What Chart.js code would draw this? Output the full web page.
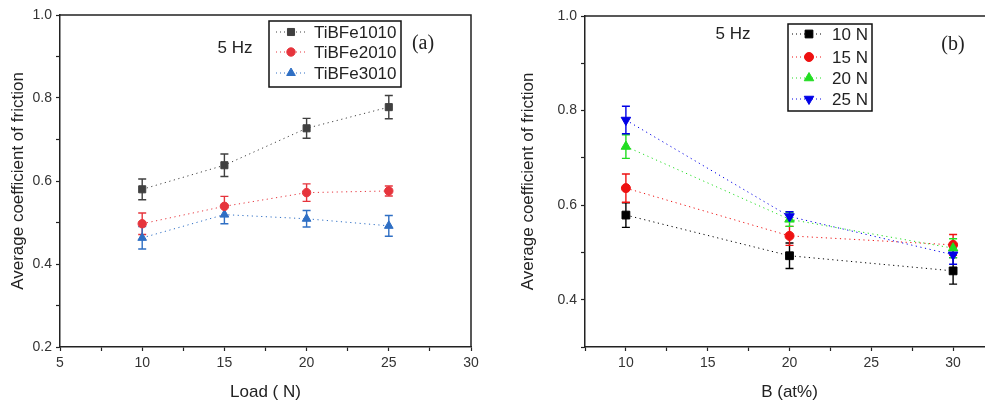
<!DOCTYPE html>
<html>
<head>
<meta charset="utf-8">
<script src="https://cdn.jsdelivr.net/npm/chart.js@4.4.1/dist/chart.umd.min.js"></script>
<style>
	html, body { margin: 0; padding: 0; background: #fff; width: 985px; height: 403px; overflow: hidden; position: relative; }
	#wrap-a { position: absolute; left: 0; top: 0; width: 490px; height: 403px; }
	#wrap-b { position: absolute; left: 490px; top: 0; width: 515px; height: 403px; }
</style>
</head>
<body>
<div id="wrap-a"><canvas id="chart-a" width="490" height="403"></canvas></div>
<div id="wrap-b"><canvas id="chart-b" width="515" height="403"></canvas></div>
<script>
// panel (a): friction vs load
const loads = [10, 15, 20, 25];
const alloyNames = ["TiBFe1010", "TiBFe2010", "TiBFe3010"];
const cofTiBFe1010 = [0.580, 0.638, 0.727, 0.778];
const errTiBFe1010 = [0.025, 0.027, 0.024, 0.028];
const cofTiBFe2010 = [0.497, 0.539, 0.572, 0.576];
const errTiBFe2010 = [0.026, 0.024, 0.021, 0.012];
const cofTiBFe3010 = [0.463, 0.519, 0.509, 0.492];
const errTiBFe3010 = [0.027, 0.022, 0.020, 0.025];

// panel (b): friction vs boron content
const boron = [10, 20, 30];
const loadNames = ["10 N", "15 N", "20 N", "25 N"];
const cof10N = [0.579, 0.493, 0.461];
const err10N = [0.026, 0.027, 0.028];
const cof15N = [0.636, 0.535, 0.516];
const err15N = [0.030, 0.020, 0.022];
const cof20N = [0.724, 0.570, 0.509];
const err20N = [0.025, 0.015, 0.020];
const cof25N = [0.780, 0.576, 0.495];
const err25N = [0.029, 0.010, 0.020];

const FONT = "'Liberation Sans', Arial, sans-serif";
const AXIS = "#222";

const toPoints = (xs, ys) => xs.map((x, i) => ({ x: x, y: ys[i] }));

// draws vertical error bars under the markers
const errorBars = {
	id: "errorBars",
	beforeDatasetsDraw(chart) {
		const ctx = chart.ctx;
		const yScale = chart.scales.y;
		chart.data.datasets.forEach((ds, i) => {
			const meta = chart.getDatasetMeta(i);
			ctx.save();
			ctx.strokeStyle = ds.pointBackgroundColor;
			ctx.lineWidth = 1.4;
			meta.data.forEach((pt, j) => {
				const v = ds.data[j].y;
				const e = ds.errors[j];
				const top = yScale.getPixelForValue(v + e);
				const bot = yScale.getPixelForValue(v - e);
				ctx.beginPath();
				ctx.moveTo(pt.x, top); ctx.lineTo(pt.x, bot);
				ctx.moveTo(pt.x - 4, top); ctx.lineTo(pt.x + 4, top);
				ctx.moveTo(pt.x - 4, bot); ctx.lineTo(pt.x + 4, bot);
				ctx.stroke();
			});
			ctx.restore();
		});
	}
};

// frame, boxed legend and text labels
const framePlugin = {
	id: "frame",
	afterDraw(chart, args, opts) {
		const ctx = chart.ctx;
		const a = chart.chartArea;
		ctx.save();
		ctx.strokeStyle = AXIS;
		ctx.lineWidth = 1.5;
		ctx.beginPath();
		ctx.moveTo(a.left, a.top); ctx.lineTo(a.right, a.top); ctx.lineTo(a.right, a.bottom);
		ctx.stroke();

		const lg = opts.legend;
		ctx.strokeStyle = "#111";
		ctx.lineWidth = 1.5;
		ctx.strokeRect(lg.box[0], lg.box[1], lg.box[2] - lg.box[0], lg.box[3] - lg.box[1]);
		chart.data.datasets.forEach((ds, i) => {
			const y = lg.rows[i];
			ctx.strokeStyle = ds.borderColor;
			ctx.lineWidth = 1;
			ctx.setLineDash([1, 3]);
			ctx.beginPath();
			ctx.moveTo(lg.line[0], y); ctx.lineTo(lg.line[1], y);
			ctx.stroke();
			ctx.setLineDash([]);
			ctx.fillStyle = ds.pointBackgroundColor;
			ctx.strokeStyle = ds.pointBackgroundColor;
			Chart.helpers.drawPoint(ctx, {
				pointStyle: ds.pointStyle,
				radius: ds.pointRadius,
				rotation: ds.pointRotation || 0,
				borderWidth: 1
			}, lg.markX, y);
			ctx.fillStyle = "#222";
			ctx.font = "17px " + FONT;
			ctx.textAlign = "left";
			ctx.textBaseline = "middle";
			ctx.fillText(ds.label, lg.textX, y + 1);
		});

		opts.labels.forEach((l) => {
			ctx.fillStyle = "#222";
			ctx.font = l.font;
			ctx.textAlign = "center";
			ctx.textBaseline = "middle";
			ctx.fillText(l.text, l.x, l.y);
		});
		ctx.restore();
	}
};

function makeDataset(label, xs, ys, errs, color, style, radius, rotation) {
	return {
		label: label,
		data: toPoints(xs, ys),
		errors: errs,
		borderColor: color,
		borderWidth: 1,
		borderDash: [1.2, 3.5],
		pointStyle: style,
		pointRadius: radius,
		pointRotation: rotation || 0,
		pointBackgroundColor: color,
		pointBorderColor: color,
		pointBorderWidth: 1,
		fill: false,
		tension: 0
	};
}

function buildScales(opts) {
	return {
		x: {
			type: "linear",
			min: opts.xMin,
			max: opts.xMax,
			ticks: {
				stepSize: 2.5,
				autoSkip: false,
				maxRotation: 0,
				padding: 4,
				color: "#333",
				font: { family: FONT, size: 14 },
				callback: (v) => (v % 5 === 0 ? String(v) : "")
			},
			grid: { drawOnChartArea: false, tickLength: 4, tickColor: AXIS, tickWidth: 1.2 },
			border: { color: AXIS, width: 1.5 },
			title: { display: true, text: opts.xTitle, color: "#222", font: { family: FONT, size: 17 }, padding: { top: 4, bottom: 0 } },
			afterFit: (s) => { s.height = 56; }
		},
		y: {
			min: opts.yMin,
			max: 1.0,
			ticks: {
				stepSize: 0.1,
				autoSkip: false,
				padding: 4,
				color: "#333",
				font: { family: FONT, size: 14 },
				callback: (v) => {
					const k = Math.round(v * 10);
					return k % 2 === 0 ? (k / 10).toFixed(1) : "";
				}
			},
			grid: { drawOnChartArea: false, tickLength: 4, tickColor: AXIS, tickWidth: 1.2 },
			border: { color: AXIS, width: 1.5 },
			title: { display: true, text: "Average coefficient of friction", color: "#222", font: { family: FONT, size: 17 }, padding: { top: 4, bottom: 0 } },
			afterFit: (s) => { s.width = opts.yWidth; }
		}
	};
}

const alloyColors = ["#404040", "#e6343c", "#2f6fc4"];
const alloyCof = [cofTiBFe1010, cofTiBFe2010, cofTiBFe3010];
const alloyErr = [errTiBFe1010, errTiBFe2010, errTiBFe3010];
const alloyStyles = [["rect", 5], ["circle", 4.2], ["triangle", 5]];

new Chart(document.getElementById("chart-a"), {
	type: "line",
	data: {
		datasets: alloyNames.map((name, i) =>
			makeDataset(name, loads, alloyCof[i], alloyErr[i], alloyColors[i], alloyStyles[i][0], alloyStyles[i][1]))
	},
	options: {
		responsive: false,
		animation: false,
		layout: { padding: { left: 4, top: 15, right: 19, bottom: 0 } },
		plugins: {
			legend: { display: false },
			tooltip: { enabled: false },
			frame: {
				legend: { box: [269, 21, 401, 87], rows: [32, 52, 73], line: [276, 305], markX: 291, textX: 314 },
				labels: [
					{ text: "5 Hz", x: 235, y: 48, font: "17px " + FONT },
					{ text: "(a)", x: 423, y: 44, font: "20px 'Liberation Serif', 'Times New Roman', serif" }
				]
			}
		},
		scales: buildScales({ xMin: 5, xMax: 30, yMin: 0.2, xTitle: "Load ( N)", yWidth: 56 })
	},
	plugins: [errorBars, framePlugin]
});

const loadColors = ["#000000", "#ee1111", "#22dd22", "#0000e6"];
const loadCof = [cof10N, cof15N, cof20N, cof25N];
const loadErr = [err10N, err15N, err20N, err25N];
const loadStyles = [["rect", 5.5, 0], ["circle", 4.5, 0], ["triangle", 5.5, 0], ["triangle", 5.5, 180]];

new Chart(document.getElementById("chart-b"), {
	type: "line",
	data: {
		datasets: loadNames.map((name, i) => {
			const ds = makeDataset(name, boron, loadCof[i], loadErr[i], loadColors[i], loadStyles[i][0], loadStyles[i][1], loadStyles[i][2]);
			ds.order = 3 - i;
			return ds;
		})
	},
	options: {
		responsive: false,
		animation: false,
		layout: { padding: { left: 24, top: 16, right: 11, bottom: 0 } },
		plugins: {
			legend: { display: false },
			tooltip: { enabled: false },
			frame: {
				legend: { box: [298, 24, 382, 111], rows: [34, 57, 78, 99], line: [302, 334], markX: 319, textX: 342 },
				labels: [
					{ text: "5 Hz", x: 243, y: 34, font: "17px " + FONT },
					{ text: "(b)", x: 463, y: 45, font: "20px 'Liberation Serif', 'Times New Roman', serif" }
				]
			}
		},
		scales: buildScales({ xMin: 7.5, xMax: 32.5, yMin: 0.3, xTitle: "B (at%)", yWidth: 71 })
	},
	plugins: [errorBars, framePlugin]
});
</script>
</body>
</html>
